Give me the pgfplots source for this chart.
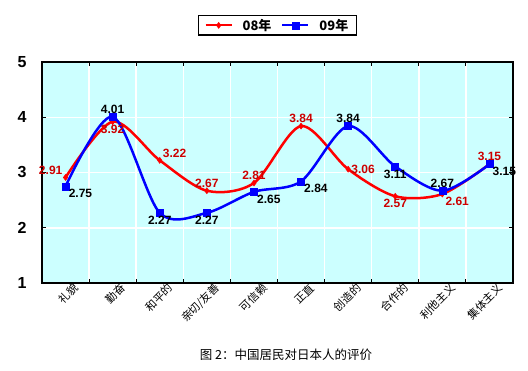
\documentclass[border=0pt]{standalone}
\usepackage{pgfplots}
\pgfplotsset{compat=1.18}
\usepackage{fontspec}
\setmainfont{Liberation Sans}
\newfontfamily\cjk{Noto Sans CJK SC}
\definecolor{bgc}{HTML}{CCFFFF}
\definecolor{lblred}{HTML}{CC0000}

\pgfplotsset{
  lbl/.style 2 args={draw=none, mark=none, forget plot, nodes near coords, point meta=explicit symbolic,
    every node near coord/.append style={anchor=#1, font=\fontsize{12}{14}\selectfont\bfseries, text=#2, inner sep=3pt}},
}

\begin{document}
\begin{tikzpicture}[x=1pt,y=1pt]
\path[use as bounding box] (0,0) rectangle (528,370);
\begin{axis}[
  at={(42pt,87pt)}, anchor=south west,
  scale only axis, width=471pt, height=221pt,
  xmin=-0.5, xmax=9.5, ymin=1, ymax=5,
  axis background/.style={fill=bgc},
  axis line style={black, line width=1.6pt},
  xtick={0,...,9},
  xticklabels={礼貌,勤奋,和平的,亲切/友善,可信赖,正直,创造的,合作的,利他主义,集体主义},
  xticklabel style={font=\cjk\fontsize{11}{13}\selectfont, rotate=45, anchor=east, xshift=9pt, yshift=-10pt},
  major x tick style={draw=none},
  minor xtick={0.5,1.5,...,8.5},
  xminorgrids=true,
  minor x grid style={white, line width=1.5pt},
  minor tick length=4pt,
  minor x tick style={black, line width=1.2pt},
  ytick={1,...,5},
  ymajorgrids=true,
  major y grid style={white, line width=1.5pt},
  major tick length=4pt,
  y tick style={black, line width=1.2pt},
  tick align=inside,
  yticklabel style={font=\fontsize{16}{18}\selectfont\bfseries, xshift=-12pt},
  /pgf/number format/assume math mode=true,
  legend columns=2,
  legend style={at={(0.5,1)}, anchor=south, yshift=26pt, draw=black, line width=1.6pt,
    font=\cjk\fontsize{13}{15}\selectfont\bfseries, column sep=8pt, inner xsep=6pt, inner ysep=1.5pt},
  legend image code/.code={\draw[#1, line width=2pt] (0pt,0pt) -- (26pt,0pt); \draw[#1, mark repeat=1] plot coordinates {(13pt,0pt)};},
  clip=false,
]
\addplot[color=red, line width=2.5pt, smooth, mark=diamond*, mark size=3pt,
  mark options={solid, fill=red, line width=0.5pt}]
  coordinates {(0,2.91) (1,3.92) (2,3.22) (3,2.67) (4,2.81) (5,3.84) (6,3.06) (7,2.57) (8,2.61) (9,3.15)};
\addlegendentry{08年}
\addplot[color=blue, line width=2.5pt, smooth, mark=square*, mark size=3.5pt,
  mark options={solid, fill=blue, line width=0.5pt}]
  coordinates {(0,2.75) (1,4.01) (2,2.27) (3,2.27) (4,2.65) (5,2.84) (6,3.84) (7,3.11) (8,2.67) (9,3.15)};
\addlegendentry{09年}
% labels 08
\addplot[lbl={south east}{lblred}] coordinates {(0,2.91) [2.91]};
\addplot[lbl={north}{lblred}] coordinates {(1,3.92) [3.92] (7,2.57) [2.57]};
\addplot[lbl={south west}{lblred}] coordinates {(2,3.22) [3.22]};
\addplot[lbl={south}{lblred}] coordinates {(3,2.67) [2.67] (4,2.81) [2.81] (5,3.84) [3.84] (9,3.15) [3.15]};
\addplot[lbl={west}{lblred}] coordinates {(6,3.06) [3.06]};
\addplot[lbl={north west}{lblred}] coordinates {(8,2.61) [2.61]};
% labels 09
\addplot[lbl={north west}{black}] coordinates {(0,2.75) [2.75] (4,2.65) [2.65] (5,2.84) [2.84] (9,3.15) [3.15]};
\addplot[lbl={south}{black}] coordinates {(1,4.01) [4.01] (6,3.84) [3.84] (8,2.67) [2.67]};
\addplot[lbl={north}{black}] coordinates {(2,2.27) [2.27] (3,2.27) [2.27] (7,3.11) [3.11]};
\end{axis}
\node[font=\cjk\fontsize{12.5}{14}\selectfont] at (286,15) {图 2：中国居民对日本人的评价};
\end{tikzpicture}
\end{document}
